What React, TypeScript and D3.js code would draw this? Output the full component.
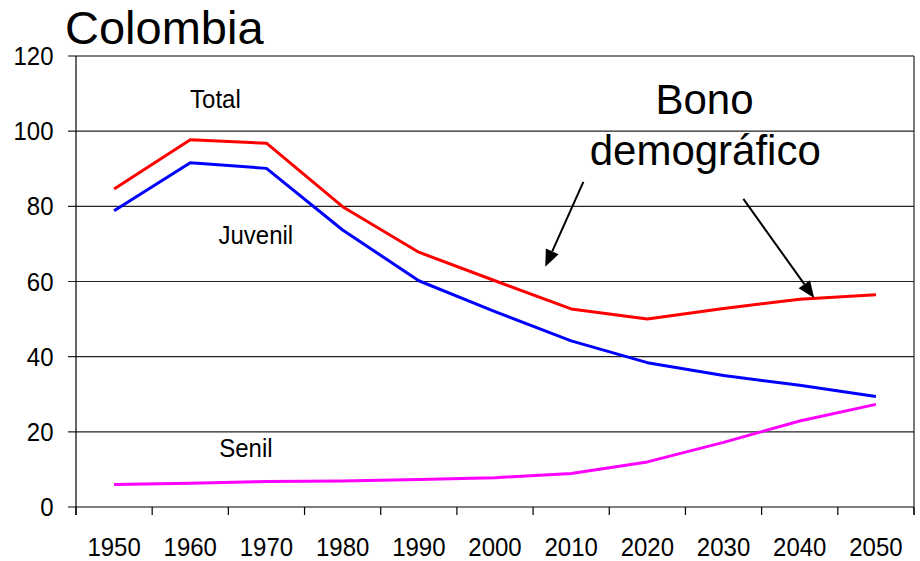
import React from "react";
import * as d3 from "d3";

const years = [1950, 1960, 1970, 1980, 1990, 2000, 2010, 2020, 2030, 2040, 2050];
const total = [84.6, 97.7, 96.8, 79.9, 67.8, 60.2, 52.7, 50.0, 52.8, 55.3, 56.5];
const juvenil = [78.8, 91.6, 90.1, 73.7, 60.2, 52.0, 44.2, 38.4, 35.0, 32.4, 29.4];
const senil = [6.0, 6.3, 6.8, 6.9, 7.3, 7.8, 8.9, 12.0, 17.2, 22.9, 27.3];
const yTicks = [0, 20, 40, 60, 80, 100, 120];

const seriesList = [
  { name: "Total", values: total, color: "#FF0000" },
  { name: "Juvenil", values: juvenil, color: "#0000FF" },
  { name: "Senil", values: senil, color: "#FF00FF" },
];

const labels = [
  { text: "Total", year: 1963.3, value: 106.2, size: 24 },
  { text: "Juvenil", year: 1968.6, value: 70.0, size: 24 },
  { text: "Senil", year: 1967.3, value: 13.3, size: 24 },
  { text: "Bono", year: 2027.5, value: 104.6, size: 42 },
  { text: "demográfico", year: 2027.6, value: 91.0, size: 42 },
];

const arrows = [
  { fromYear: 2011.6, fromValue: 86.5, toYear: 2006.6, toValue: 63.9 },
  { fromYear: 2032.6, fromValue: 82.0, toYear: 2041.9, toValue: 55.6 },
];

const W = 920;
const H = 561;
const left = 76;
const right = 914;
const top = 56;
const bottom = 507;
const FONT = "'Liberation Sans', Arial, sans-serif";
const SY = 1.08;

function StretchText(props: {
  x: number;
  y: number;
  size: number;
  anchor: string;
  sy: number;
  children: React.ReactNode;
}) {
  const { x, y, size, anchor, sy, children } = props;
  return (
    <text
      x={0}
      y={0}
      transform={`translate(${x},${y}) scale(1,${sy})`}
      textAnchor={anchor}
      fontFamily={FONT}
      fontSize={size}
      fill="#000"
    >
      {children}
    </text>
  );
}

export default function App() {
  const xBand = d3
    .scaleBand<number>()
    .domain(years)
    .range([left, right])
    .paddingInner(0)
    .paddingOuter(0);
  const bw = xBand.bandwidth();
  const xc = (yr: number) => (xBand(yr) as number) + bw / 2;
  const xLin = d3
    .scaleLinear()
    .domain([years[0], years[years.length - 1]])
    .range([xc(years[0]), xc(years[years.length - 1])]);
  const y = d3.scaleLinear().domain([0, 120]).range([bottom, top]);

  const line = d3
    .line<number>()
    .x((_, i) => xc(years[i]))
    .y((d) => y(d));

  const boundaries = years.map((yr) => xBand(yr) as number).concat([right]);

  return (
    <svg
      width={W}
      height={H}
      style={{ position: "absolute", left: 0, top: 0, background: "#fff" }}
    >
      <rect x={0} y={0} width={W} height={H} fill="#fff" />
      {yTicks.map((t) => (
        <line
          key={"g" + t}
          x1={left - 8}
          x2={right}
          y1={y(t)}
          y2={y(t)}
          stroke={t === 0 || t === 120 ? "#000" : "#222"}
          strokeWidth={1.2}
        />
      ))}
      <line x1={left} x2={left} y1={top} y2={bottom + 8} stroke="#000" strokeWidth={1.2} />
      <line x1={right} x2={right} y1={top} y2={bottom + 8} stroke="#222" strokeWidth={1.2} />
      {boundaries.map((b, i) => (
        <line key={"xt" + i} x1={b} x2={b} y1={bottom} y2={bottom + 8} stroke="#000" strokeWidth={1.2} />
      ))}
      {yTicks.map((t) => (
        <StretchText key={"yl" + t} x={53.5} y={y(t) + 9} size={24} anchor="end" sy={SY}>
          {t}
        </StretchText>
      ))}
      {years.map((yr) => (
        <StretchText key={"xl" + yr} x={xc(yr)} y={556} size={24} anchor="middle" sy={SY}>
          {yr}
        </StretchText>
      ))}
      {seriesList.map((s) => (
        <path
          key={s.name}
          d={line(s.values) as string}
          fill="none"
          stroke={s.color}
          strokeWidth={3}
          strokeLinejoin="round"
        />
      ))}
      {labels.map((l) => (
        <StretchText
          key={l.text}
          x={xLin(l.year)}
          y={y(l.value)}
          size={l.size}
          anchor="middle"
          sy={l.size < 30 ? SY : 1.03}
        >
          {l.text}
        </StretchText>
      ))}
      {arrows.map((a, i) => {
        const x1 = xLin(a.fromYear);
        const y1 = y(a.fromValue);
        const x2 = xLin(a.toYear);
        const y2 = y(a.toValue);
        const dx = x2 - x1;
        const dy = y2 - y1;
        const len = Math.sqrt(dx * dx + dy * dy);
        const ux = dx / len;
        const uy = dy / len;
        const hl = 17;
        const hw = 7;
        const bx = x2 - ux * hl;
        const by = y2 - uy * hl;
        const pts = [
          [x2, y2],
          [bx - uy * hw, by + ux * hw],
          [bx + uy * hw, by - ux * hw],
        ]
          .map((p) => p.join(","))
          .join(" ");
        return (
          <g key={"ar" + i}>
            <line x1={x1} y1={y1} x2={bx} y2={by} stroke="#000" strokeWidth={2} />
            <polygon points={pts} fill="#000" />
          </g>
        );
      })}
      <text x={65} y={44} fontFamily={FONT} fontSize={47} fill="#000">
        Colombia
      </text>
    </svg>
  );
}
